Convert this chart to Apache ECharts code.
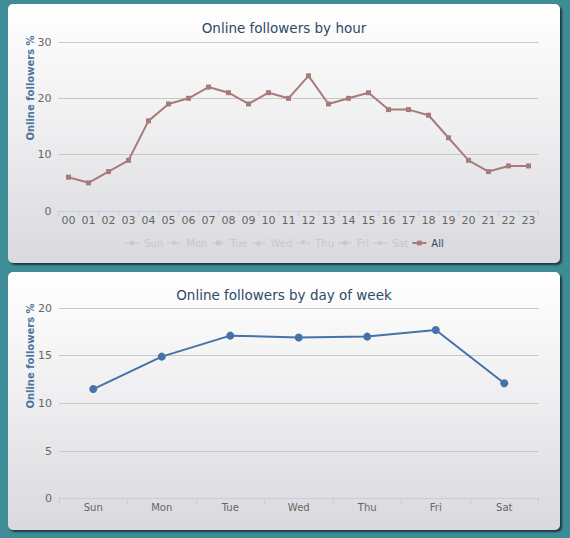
<!DOCTYPE html>
<html>
<head>
<meta charset="utf-8">
<script src="https://cdn.jsdelivr.net/npm/echarts@6/dist/echarts.min.js"></script>
<style>
  html, body { margin: 0; padding: 0; }
  body { width: 570px; height: 538px; background: #3d8c96; position: relative; overflow: hidden; }
  .panel {
    position: absolute; left: 8px; width: 552px;
    border-radius: 5px;
    background: linear-gradient(to bottom, #ffffff 0%, #eeeef0 50%, #d9d9de 100%);
    box-shadow: 2px 2px 2px rgba(20,30,35,0.75);
  }
  #p1 { top: 4px; height: 259px; }
  #p2 { top: 272px; height: 258px; }
</style>
</head>
<body>
<div class="panel" id="p1"></div>
<div class="panel" id="p2"></div>
<script>
const hourLabels = ['00','01','02','03','04','05','06','07','08','09','10','11','12','13','14','15','16','17','18','19','20','21','22','23'];
const hourAll = [6, 5, 7, 9, 16, 19, 20, 22, 21, 19, 21, 20, 24, 19, 20, 21, 18, 18, 17, 13, 9, 7, 8, 8];
const dayNames = ['Sun','Mon','Tue','Wed','Thu','Fri','Sat'];
const dayValues = [11.5, 14.9, 17.1, 16.9, 17.0, 17.7, 12.1];
const hourYTicks = { min: 0, max: 30, interval: 10 };
const dayYTicks = { min: 0, max: 20, interval: 5 };

const FONT = '"DejaVu Sans", "Noto Sans", sans-serif';
const titleColor = '#2e4a66';
const axisTitleColor = '#4d759e';
const labelColor = '#666666';
const gridColor = '#c8c8c8';

const daySymbols = ['circle', 'diamond', 'rect', 'triangle', 'path://M0,0L10,0L5,10Z', 'circle', 'diamond'];

const c1 = echarts.init(document.getElementById('p1'), null, { renderer: 'svg' });
const hiddenSeries = dayNames.map((d, i) => ({
  name: d, type: 'line', data: [], symbol: daySymbols[i], symbolSize: 6
}));
const selected = {};
dayNames.forEach(d => selected[d] = false);
selected['All'] = true;

c1.setOption({
  backgroundColor: 'transparent',
  animation: false,
  title: {
    text: 'Online followers by hour', left: 'center', top: 12,
    textStyle: { fontFamily: FONT, fontSize: 13.5, fontWeight: 'normal', color: titleColor }
  },
  graphic: [{
    type: 'text', x: 22, y: 84, rotation: Math.PI / 2,
    style: { text: 'Online followers %', font: 'bold 10px ' + FONT, fill: axisTitleColor, align: 'center', verticalAlign: 'middle' }
  }],
  legend: {
    top: 229, left: 'center', itemWidth: 14, itemHeight: 6, itemGap: 3,
    inactiveColor: '#c8c8c8', selectedMode: true,
    textStyle: { fontFamily: FONT, fontSize: 10, color: '#274b6d' },
    data: dayNames.concat(['All']), selected: selected
  },
  grid: { left: 50.5, right: 21.5, top: 38, bottom: 52 },
  xAxis: {
    type: 'category', data: hourLabels, boundaryGap: true,
    axisLine: { lineStyle: { color: '#c0d0e0' } },
    axisTick: { show: true, length: 5, lineStyle: { color: '#c0d0e0' } },
    axisLabel: { color: labelColor, fontFamily: FONT, fontSize: 11, margin: 4, interval: 0 }
  },
  yAxis: {
    type: 'value', min: hourYTicks.min, max: hourYTicks.max, interval: hourYTicks.interval,
    axisLine: { show: false }, axisTick: { show: false },
    axisLabel: { color: labelColor, fontFamily: FONT, fontSize: 11, margin: 7 },
    splitLine: { lineStyle: { color: gridColor } }
  },
  series: hiddenSeries.concat([{
    name: 'All', type: 'line', data: hourAll,
    symbol: 'rect', symbolSize: 5,
    lineStyle: { color: '#a87b7b', width: 2 },
    itemStyle: { color: '#a87b7b' }
  }])
});

const c2 = echarts.init(document.getElementById('p2'), null, { renderer: 'svg' });
c2.setOption({
  backgroundColor: 'transparent',
  animation: false,
  title: {
    text: 'Online followers by day of week', left: 'center', top: 11,
    textStyle: { fontFamily: FONT, fontSize: 13.5, fontWeight: 'normal', color: titleColor }
  },
  graphic: [{
    type: 'text', x: 22, y: 84, rotation: Math.PI / 2,
    style: { text: 'Online followers %', font: 'bold 10px ' + FONT, fill: axisTitleColor, align: 'center', verticalAlign: 'middle' }
  }],
  grid: { left: 51, right: 21.5, top: 36, bottom: 31.3 },
  xAxis: {
    type: 'category', data: dayNames, boundaryGap: true,
    axisLine: { lineStyle: { color: '#c0d0e0' } },
    axisTick: { show: true, length: 5, lineStyle: { color: '#c0d0e0' } },
    axisLabel: { color: labelColor, fontFamily: FONT, fontSize: 10, margin: 4 }
  },
  yAxis: {
    type: 'value', min: dayYTicks.min, max: dayYTicks.max, interval: dayYTicks.interval,
    axisLine: { show: false }, axisTick: { show: false },
    axisLabel: { color: labelColor, fontFamily: FONT, fontSize: 11, margin: 7 },
    splitLine: { lineStyle: { color: gridColor } }
  },
  series: [{
    name: 'Days', type: 'line', data: dayValues,
    symbol: 'circle', symbolSize: 8,
    lineStyle: { color: '#4572a7', width: 2 },
    itemStyle: { color: '#4572a7' }
  }]
});
</script>
</body>
</html>
